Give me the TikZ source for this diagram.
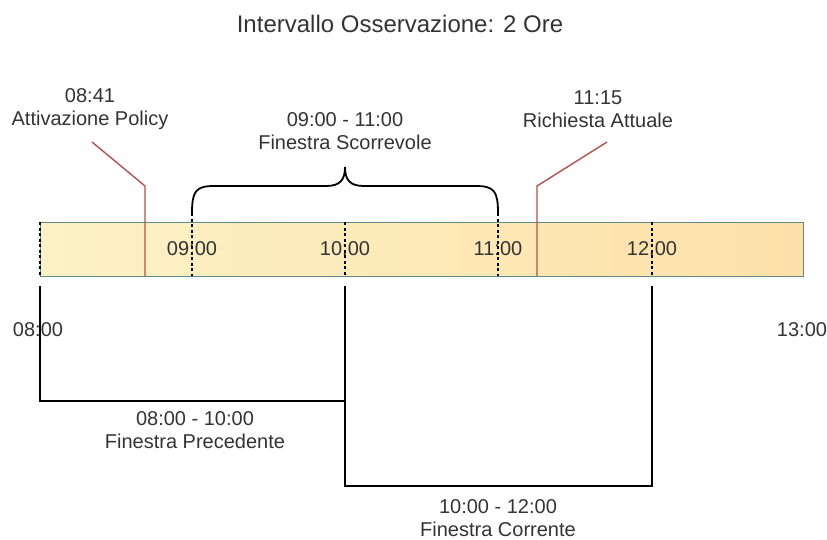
\documentclass[tikz,border=0pt]{standalone}
\usepackage{fontspec}
\setmainfont{Liberation Sans}
\definecolor{barline}{HTML}{5E8C86}
\definecolor{barleft}{HTML}{FCF2C6}
\definecolor{barright}{HTML}{FDE0A8}
\definecolor{redline}{HTML}{B5504C}
\definecolor{txt}{HTML}{333333}
\tikzset{
  lbl/.style={font=\fontsize{20}{23}\selectfont, text=txt, align=center, inner sep=0pt},
  ticklbl/.style={font=\fontsize{20}{22}\selectfont, text=txt, inner sep=0pt},
  tickline/.style={black, line width=1.2pt, dash pattern=on 3pt off 2.5pt},
  marker/.style={redline, line width=1.4pt},
  winline/.style={black, line width=1.8pt},
  bracestyle/.style={black, line width=1.8pt}
}
\begin{document}
\begin{tikzpicture}[x=1pt,y=-1pt]
\useasboundingbox (0,0) rectangle (827,539);
% bar
\node[draw=barline, line width=1.2pt, left color=barleft, right color=barright,
      minimum width=763pt, minimum height=54pt, inner sep=0pt, anchor=north west] (bar) at (40,222) {};
% title
\node[font=\fontsize{24}{28}\selectfont, text=txt, inner sep=0pt] (title) at (400,24) {Intervallo Osservazione: 2 Ore};
% tick coordinates
\coordinate (t8top) at (40,222);   \coordinate (t8bot) at (40,276);
\coordinate (t9top) at (192,213);  \coordinate (t9bot) at (192,276);
\coordinate (t10top) at (345,222); \coordinate (t10bot) at (345,276);
\coordinate (t11top) at (498,213); \coordinate (t11bot) at (498,276);
\coordinate (t12top) at (652,222); \coordinate (t12bot) at (652,276);
% tick labels
\node[ticklbl] (l9) at (192,249) {09:00};
\node[ticklbl] (l10) at (345,249) {10:00};
\node[ticklbl] (l11) at (498,249) {11:00};
\node[ticklbl] (l12) at (652,249) {12:00};
\node[ticklbl] (l8) at (38,330) {08:00};
\node[ticklbl] (l13) at (802,330) {13:00};
% dashed ticks
\draw[tickline] (t8top) -- (t8bot);
\draw[tickline] (t9top) -- (t9bot);
\draw[tickline] (t10top) -- (t10bot);
\draw[tickline] (t11top) -- (t11bot);
\draw[tickline] (t12top) -- (t12bot);
% brace
\coordinate (btip) at (345,167);
\draw[bracestyle] (t9top) .. controls (192,191) and (196,186) .. (214,186) -- (326,186)
   .. controls (340,186) and (345,180) .. (btip)
   .. controls (345,180) and (350,186) .. (364,186) -- (476,186)
   .. controls (494,186) and (498,191) .. (t11top);
% labels above
\node[lbl] (pol) at (90,109) {08:41\\Attivazione Policy};
\node[lbl] (scor) at (345,131) {09:00 - 11:00\\Finestra Scorrevole};
\node[lbl] (req) at (598,109) {11:15\\Richiesta Attuale};
% red markers
\coordinate (p0) at (145,276); \coordinate (p1) at (145,186); \coordinate (p2) at (92,142);
\coordinate (r0) at (537,276); \coordinate (r1) at (537,186); \coordinate (r2) at (607,142);
\draw[marker] (p0) -- (p1) -- (p2);
\draw[marker] (r0) -- (r1) -- (r2);
% windows below
\coordinate (w8a) at (40,286); \coordinate (w8b) at (40,401);
\coordinate (w10a) at (345,286); \coordinate (w10m) at (345,401); \coordinate (w10b) at (345,486);
\coordinate (w12a) at (652,286); \coordinate (w12b) at (652,486);
\draw[winline] (w8a) -- (w8b) -- (w10m);
\draw[winline] (w10a) -- (w10b) -- (w12b) -- (w12a);
\node[lbl] (prec) at (195,430) {08:00 - 10:00\\Finestra Precedente};
\node[lbl] (corr) at (498,518) {10:00 - 12:00\\Finestra Corrente};
\end{tikzpicture}
\end{document}
